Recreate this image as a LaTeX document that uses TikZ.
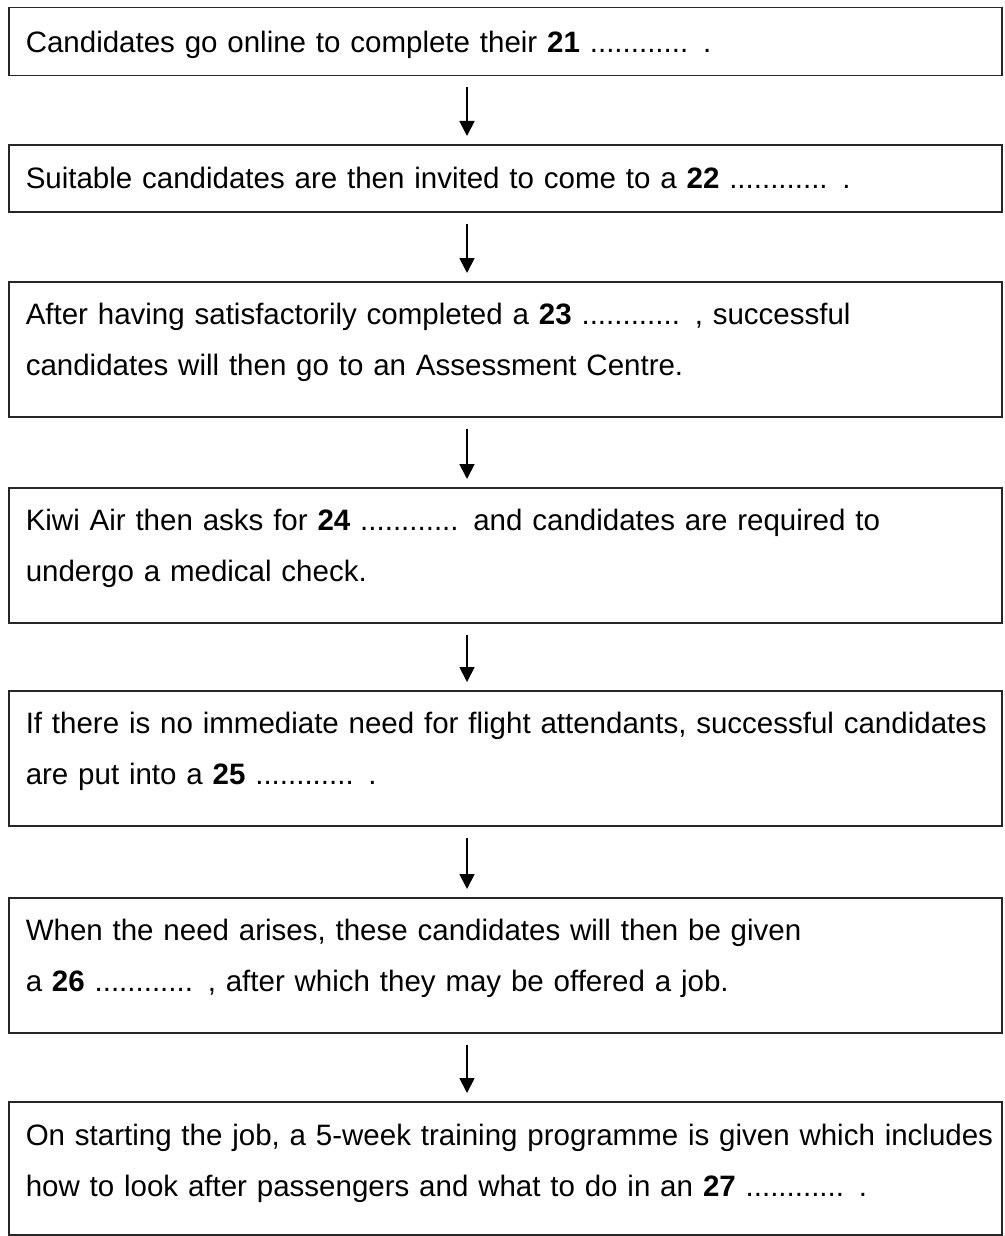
\documentclass[tikz,border=0pt]{standalone}
\usepackage{fontspec}
\setmainfont{Liberation Sans}
\usetikzlibrary{arrows.meta}

\begin{document}
\begin{tikzpicture}[x=1pt,y=1pt]
	\tikzstyle{stage}=[draw=black!85,line width=1.5pt,anchor=north west,inner xsep=17pt,inner ysep=0pt,text width=959pt,align=left,font=\fontsize{29.5}{51}\selectfont]
	\tikzstyle{oneline}=[stage,text height=45pt,text depth=23pt]
	\tikzstyle{twoline}=[stage,text height=43pt,text depth=92pt]
	\tikzstyle{flow}=[-{Triangle[width=15pt,length=15pt]},line width=1.8pt]
	
	\useasboundingbox (0,0) rectangle (1004,-1236);
	
	% Draw the stages of the selection process
	\node[oneline] (S-1) at (8,-7) {Candidates go online to complete their \textbf{21} ............ .};
	\node[oneline,text height=44pt] (S-2) at (8,-144) {Suitable candidates are then invited to come to a \textbf{22} ............ .};
	\node[twoline] (S-3) at (8,-281) {After having satisfactorily completed a \textbf{23} ............ , successful\\ candidates will then go to an Assessment Centre.};
	\node[twoline] (S-4) at (8,-487) {Kiwi Air then asks for \textbf{24} ............ and candidates are required to\\ undergo a medical check.};
	\node[twoline] (S-5) at (8,-690) {\mbox{If there is no immediate need for flight attendants, successful candidates}\\ are put into a \textbf{25} ............ .};
	\node[twoline] (S-6) at (8,-897) {When the need arises, these candidates will then be given\\ a \textbf{26} ............ , after which they may be offered a job.};
	\node[twoline,text height=44pt,text depth=89pt] (S-7) at (8,-1101) {\mbox{On starting the job, a 5-week training programme is given which includes}\\ how to look after passengers and what to do in an \textbf{27} ............ .};
	
	% Connect every stage with the next one
	\foreach \a/\b in {1/2,2/3,3/4,4/5,5/6,6/7}
	\draw[flow] ([shift={(459pt,-11pt)}]S-\a.south west) -- ([shift={(459pt,8pt)}]S-\b.north west);
\end{tikzpicture}
\end{document}
